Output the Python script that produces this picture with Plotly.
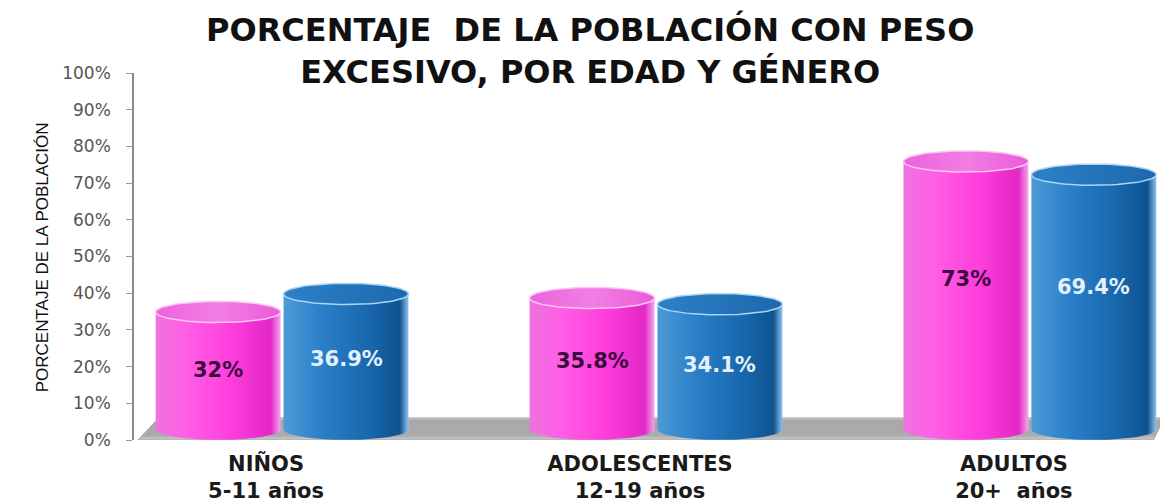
import numpy as np
import plotly.graph_objects as go

# ---- data ----
categories = ["NIÑOS", "ADOLESCENTES", "ADULTOS"]
age_ranges = ["5-11 años", "12-19 años", "20+  años"]
mujeres = [32, 35.8, 73]      # pink series
hombres = [36.9, 34.1, 69.4]  # blue series
mujeres_labels = ["32%", "35.8%", "73%"]
hombres_labels = ["36.9%", "34.1%", "69.4%"]
y_ticks = list(range(0, 101, 10))
title_lines = ["PORCENTAJE  DE LA POBLACIÓN CON PESO", "EXCESIVO, POR EDAD Y GÉNERO"]
y_title = "PORCENTAJE DE LA POBLACIÓN"

# ---- styling ----
HALF = 0.167      # half bar width (x units)
OFF = 0.171       # offset of bar centre from category centre
E = 2.9           # ellipse semi-height (y units)
pink_body = [[0, "#ee72de"], [0.25, "#ff5ee6"], [0.6, "#ff3edc"], [0.92, "#e326c6"], [1, "#f4a6ec"]]
pink_top = [[0, "#ec62dc"], [0.5, "#f27ee4"], [1, "#ea5cd9"]]
blue_body = [[0, "#4d9ad6"], [0.3, "#2a80c8"], [0.7, "#1766ab"], [0.93, "#0f5290"], [1, "#8cc4ee"]]
blue_top = [[0, "#2f80c6"], [0.5, "#2574bb"], [1, "#1c68ad"]]

x_centers = np.arange(len(categories), dtype=float)

fig = go.Figure()

# floor
fl_x = [x_centers[0] - 0.385, x_centers[-1] + 0.33, x_centers[-1] + 0.36, x_centers[0] - 0.33, x_centers[0] - 0.385]
fl_y = [0, 0, 6, 6, 0]
fig.add_trace(go.Scatter(x=fl_x, y=fl_y, fill="toself", mode="lines",
                         line=dict(color="#a0a0a0", width=1),
                         fillgradient=dict(type="vertical",
                                           colorscale=[[0, "#cfcfcf"], [0.2, "#ababab"], [0.9, "#a8a8a8"], [1, "#dadada"]]),
                         hoverinfo="skip", showlegend=False))

t = np.linspace(0, np.pi, 40)


def add_cylinder(xc, v, body_cs, top_cs, rim, name):
    bx = xc + HALF * np.cos(np.pi - t)
    by = E - E * np.sin(np.pi - t)
    xs = list(bx) + [xc + HALF, xc - HALF, xc - HALF]
    ys = list(by) + [v + E, v + E, by[0]]
    fig.add_trace(go.Scatter(x=xs, y=ys, fill="toself", mode="lines",
                             line=dict(width=0, color="rgba(0,0,0,0)"),
                             fillgradient=dict(type="horizontal", colorscale=body_cs),
                             name=name, hoverinfo="skip", showlegend=False))
    tt = np.linspace(0, 2 * np.pi, 80)
    fig.add_trace(go.Scatter(x=xc + HALF * np.cos(tt), y=v + E + E * np.sin(tt),
                             fill="toself", mode="lines",
                             line=dict(width=1.5, color=rim),
                             fillgradient=dict(type="horizontal", colorscale=top_cs),
                             hoverinfo="skip", showlegend=False))


for i, xc in enumerate(x_centers):
    add_cylinder(xc - OFF, mujeres[i], pink_body, pink_top, "#fbc8f3", "Mujeres")
    add_cylinder(xc + OFF, hombres[i], blue_body, blue_top, "#a9d6f7", "Hombres")

# value labels
for i, xc in enumerate(x_centers):
    fig.add_annotation(x=xc - OFF, y=mujeres[i] * 0.6, text="<b>%s</b>" % mujeres_labels[i],
                       showarrow=False, font=dict(family="DejaVu Sans", size=21, color="#3a0b3c"))
    fig.add_annotation(x=xc + OFF, y=hombres[i] * 0.6, text="<b>%s</b>" % hombres_labels[i],
                       showarrow=False, font=dict(family="DejaVu Sans", size=21, color="#e4f1fd"))

# title
fig.add_annotation(xref="paper", yref="paper", x=0.444, y=1.177, xanchor="center", yanchor="top",
                   text="<b>%s</b><br><b>%s</b>" % tuple(title_lines), showarrow=False,
                   font=dict(family="DejaVu Sans", size=32, color="#111111"))

# y-axis title
fig.add_annotation(xref="paper", yref="paper", x=-0.089, y=0.497, xanchor="center", yanchor="middle",
                   text=y_title, textangle=-90, showarrow=False,
                   font=dict(family="Liberation Sans Narrow, Arial Narrow, Liberation Sans", size=17, color="#111111"))

tick_text = ["<b>%s</b><br><b>%s</b>" % (c, a) for c, a in zip(categories, age_ranges)]

fig.update_layout(
    width=1160, height=504,
    margin=dict(l=134, r=0, t=73, b=64),
    paper_bgcolor="white", plot_bgcolor="white",
    xaxis=dict(range=[-0.396, 2.348], tickvals=list(x_centers), ticktext=tick_text,
               showgrid=False, zeroline=False, showline=False, ticks="",
               ticklabelshift=-16, ticklabelstandoff=9,
               tickfont=dict(family="DejaVu Sans", size=21, color="#1a1a1a")),
    yaxis=dict(range=[0, 100], tickvals=y_ticks, ticktext=["%d%%" % v for v in y_ticks],
               showgrid=False, zeroline=False, showline=True, linecolor="#8a8a8a", linewidth=1.5,
               ticks="outside", ticklen=6, tickcolor="#9a9a9a", ticklabelstandoff=12,
               tickfont=dict(family="DejaVu Sans", size=17, color="#555555")),
)

fig.write_html("out.html")
